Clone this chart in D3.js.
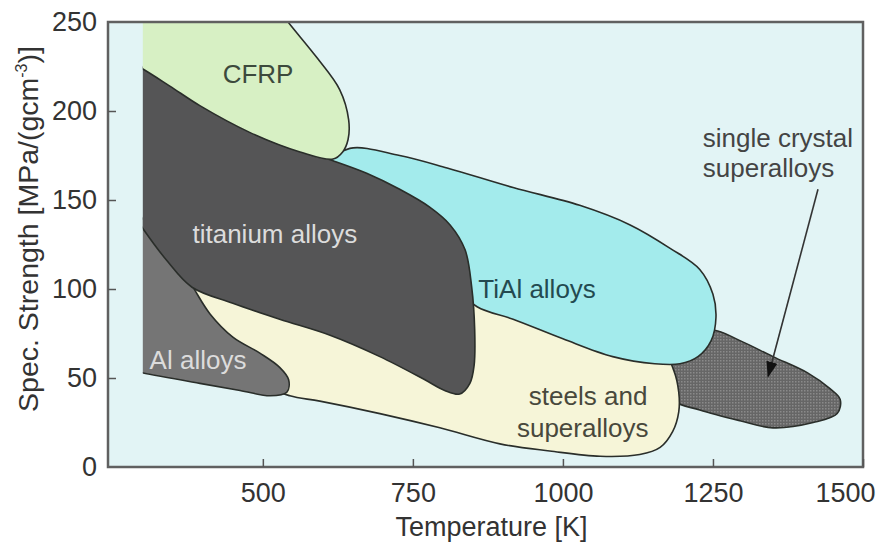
<!DOCTYPE html>
<html>
<head>
<meta charset="utf-8">
<script src="https://cdn.jsdelivr.net/npm/d3@7"></script>
<style>
body { margin: 0; background: #fff; }
text { font-family: "Liberation Sans", Arial, sans-serif; }
</style>
</head>
<body>
<script>
// region outlines as [temperature K, spec. strength MPa/(gcm^-3)]
const cfrp = [[260,265],[520,260],[542,250],[590,230],[628,212],[643,195],[642,184],[633,177],[617,173],
    [562,177],[478,188],[395,203],[345,214],[298,224],[270,229]]
const titanium = [[270,230],[298,225],[345,215],[395,204],[478,189],[562,178],[617,172],[673,165],[728,156],
    [778,146],[812,136],[837,122],[848,101],[853,77],[852,57],[845,47],[828,41],[803,43],[770,49],[695,62],
    [612,74],[528,83],[450,92],[382,101],[340,116],[298,135],[250,160]]
const tial = [[612,171],[645,179],[728,175],[807,168],[917,157],[1028,147],[1112,136],[1178,123],[1228,111],
    [1250,97],[1255,84],[1247,71],[1225,62],[1195,58],[1153,58],[1083,62],[1000,72],[917,83],[857,90],
    [820,102],[762,142],[678,161]]
const alAlloys = [[260,150],[328,128],[378,104],[412,86],[450,73],[495,64],[528,56],[543,49],[540,42],
    [512,40],[462,43],[395,47],[298,53],[270,55]]
const steels = [[362,104],[428,98],[562,84],[728,66],[820,60],[832,94],[878,97],[995,80],[1095,68],[1170,63],
    [1185,54],[1193,42],[1193,31],[1183,20],[1162,11],[1128,7],[1062,6],[978,9],[895,13],[795,22],
    [695,30],[595,37],[545,40],[503,46],[445,66],[395,88]]
const singleCrystal = [[1212,71],[1248,77],[1295,71],[1350,62],[1407,53],[1445,44],[1462,38],[1457,30],
    [1417,25],[1350,22],[1295,26],[1228,32],[1182,38],[1170,54]]

const xTicks = [500, 750, 1000, 1250, 1500]
const yTicks = [0, 50, 100, 150, 200, 250]

const labels = [
    { text: "CFRP", at: [492, 221], fill: "#3c4a3c", anchor: "middle" },
    { text: "titanium alloys", at: [520, 131], fill: "#dcdcdc", anchor: "middle" },
    { text: "Al alloys", at: [392, 60], fill: "#dcdcdc", anchor: "middle" },
    { text: "TiAl alloys", at: [957, 100], fill: "#234a50", anchor: "middle" },
    { text: "steels and", at: [1042, 40], fill: "#48483c", anchor: "middle" },
    { text: "superalloys", at: [1033, 22], fill: "#48483c", anchor: "middle" },
    { text: "single crystal", at: [1233, 185], fill: "#444", anchor: "start" },
    { text: "superalloys", at: [1233, 168], fill: "#444", anchor: "start" }
]
const arrowFrom = [1425, 156]
const arrowTo = [1342, 51]

const mLeft = 108, mRight = 863, mTop = 22, mBottom = 467

const svg = d3.select("body").append("svg")
    .attr("width", 879)
    .attr("height", 548)

const x = d3.scaleLinear().domain([242, 1500]).range([mLeft, mRight])
const y = d3.scaleLinear().domain([0, 250]).range([mBottom, mTop])

const defs = svg.append("defs")
defs.append("clipPath").attr("id", "plot")
    .append("rect")
    .attr("x", x(300)).attr("y", mTop)
    .attr("width", mRight - x(300)).attr("height", mBottom - mTop)

const pat = defs.append("pattern").attr("id", "dots")
    .attr("width", 3).attr("height", 3)
    .attr("patternUnits", "userSpaceOnUse")
pat.append("rect").attr("width", 3).attr("height", 3).attr("fill", "#666")
pat.append("rect").attr("width", 1.5).attr("height", 1.5).attr("fill", "#8a8a8a")

defs.append("marker").attr("id", "head")
    .attr("viewBox", "0 0 10 10")
    .attr("refX", 9).attr("refY", 5)
    .attr("markerWidth", 10).attr("markerHeight", 10)
    .attr("markerUnits", "strokeWidth")
    .attr("orient", "auto")
    .append("path").attr("d", "M0,1.5 L10,5 L0,8.5 z").attr("fill", "#111")

svg.append("rect")
    .attr("x", mLeft).attr("y", mTop)
    .attr("width", mRight - mLeft).attr("height", mBottom - mTop)
    .attr("fill", "#e2f4f5")

const line = d3.line()
    .x(d => x(d[0]))
    .y(d => y(d[1]))
    .curve(d3.curveCatmullRomClosed.alpha(0.5))

const regions = [
    { pts: singleCrystal, fill: "url(#dots)" },
    { pts: steels, fill: "#f6f5d8" },
    { pts: alAlloys, fill: "#757575" },
    { pts: tial, fill: "#a3ebec" },
    { pts: titanium, fill: "#555556" },
    { pts: cfrp, fill: "#d7f0c4" }
]

const g = svg.append("g").attr("clip-path", "url(#plot)")
g.selectAll("path")
    .data(regions)
    .enter()
    .append("path")
    .attr("d", d => line(d.pts))
    .attr("fill", d => d.fill)
    .attr("stroke", "#2a2e2a")
    .attr("stroke-width", 1.6)

// frame
svg.append("rect")
    .attr("x", mLeft).attr("y", mTop)
    .attr("width", mRight - mLeft).attr("height", mBottom - mTop)
    .attr("fill", "none")
    .attr("stroke", "#606060")
    .attr("stroke-width", 2.5)

const xAxis = d3.axisBottom(x).tickValues(xTicks).tickFormat(d3.format("d"))
    .tickSizeInner(-8).tickSizeOuter(0).tickPadding(16)
const yAxis = d3.axisLeft(y).tickValues(yTicks).tickFormat(d3.format("d"))
    .tickSizeInner(-8).tickSizeOuter(0).tickPadding(11)

const gx = svg.append("g").attr("transform", "translate(0," + mBottom + ")").call(xAxis)
const gy = svg.append("g").attr("transform", "translate(" + mLeft + ",0)").call(yAxis)
for (const a of [gx, gy]) {
    a.select(".domain").remove()
    a.selectAll("line").attr("stroke", "#555").attr("stroke-width", 1.5)
    a.selectAll("text").attr("font-size", 27).attr("fill", "#333")
        .attr("font-family", "Liberation Sans, Arial, sans-serif")
}
gy.selectAll(".tick").filter(d => d == 0 || d == 250).select("line").remove()
gx.selectAll(".tick").filter(d => d == 1500).select("text").attr("dx", -18)

svg.append("text")
    .attr("x", (mLeft + mRight) / 2 + 6).attr("y", 527)
    .attr("dy", "0.35em")
    .attr("text-anchor", "middle")
    .attr("font-size", 27).attr("fill", "#333")
    .text("Temperature [K]")

const yt = svg.append("text")
    .attr("transform", "translate(28,229) rotate(-90)")
    .attr("dy", "0.35em")
    .attr("text-anchor", "middle")
    .attr("font-size", 28.5).attr("fill", "#333")
yt.append("tspan").text("Spec. Strength [MPa/(gcm")
yt.append("tspan").attr("font-size", 16).attr("dy", -11).text("-3")
yt.append("tspan").attr("dy", 11).text(")]")

svg.selectAll(".lbl")
    .data(labels)
    .enter()
    .append("text")
    .attr("class", "lbl")
    .attr("x", d => x(d.at[0]))
    .attr("y", d => y(d.at[1]))
    .attr("dy", "0.35em")
    .attr("text-anchor", d => d.anchor)
    .attr("font-size", 26)
    .attr("fill", d => d.fill)
    .text(d => d.text)

svg.append("line")
    .attr("x1", x(arrowFrom[0])).attr("y1", y(arrowFrom[1]))
    .attr("x2", x(arrowTo[0])).attr("y2", y(arrowTo[1]))
    .attr("stroke", "#333")
    .attr("stroke-width", 1.6)
    .attr("marker-end", "url(#head)")
</script>
</body>
</html>
